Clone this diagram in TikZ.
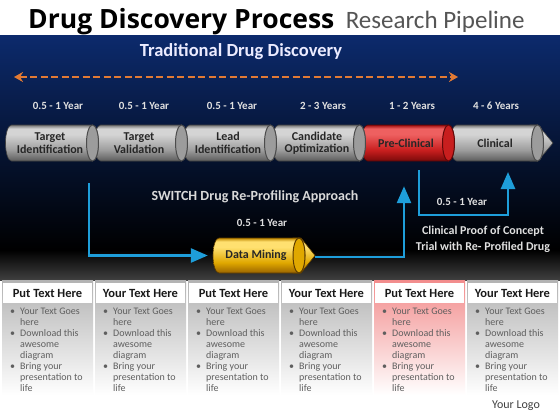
\documentclass[tikz,border=0pt]{standalone}
\usepackage{fontspec}
\setmainfont{Carlito}
\newfontfamily\headfont{Open Sans}
\usetikzlibrary{arrows.meta}
\definecolor{navytop}{RGB}{12,42,108}
\definecolor{navymid}{RGB}{7,24,66}
\definecolor{dashorange}{RGB}{226,122,52}
\definecolor{flowblue}{RGB}{30,158,218}
\definecolor{tubedk}{RGB}{92,92,92}
\definecolor{tubemid}{RGB}{156,156,156}
\definecolor{tubelt}{RGB}{212,212,212}
\definecolor{tubetop}{RGB}{118,118,118}
\definecolor{reddk}{RGB}{122,10,10}
\definecolor{redmid}{RGB}{200,30,30}
\definecolor{redlt}{RGB}{238,96,96}
\definecolor{redtop}{RGB}{160,16,16}
\definecolor{golddk}{RGB}{154,100,0}
\definecolor{goldmid}{RGB}{224,168,0}
\definecolor{goldlt}{RGB}{255,224,112}
\definecolor{goldtop}{RGB}{192,136,0}
\definecolor{pinktop}{RGB}{242,140,140}
\definecolor{subgray}{RGB}{85,85,85}
\definecolor{bodygray}{RGB}{95,95,95}
\pgfdeclareverticalshading{graytube}{100bp}{color(0bp)=(tubedk); color(25bp)=(tubedk); color(40bp)=(tubemid); color(62bp)=(tubelt); color(70bp)=(tubelt); color(75bp)=(tubetop); color(100bp)=(tubetop)}
\pgfdeclareverticalshading{redtube}{100bp}{color(0bp)=(reddk); color(25bp)=(reddk); color(40bp)=(redmid); color(62bp)=(redlt); color(70bp)=(redlt); color(75bp)=(redtop); color(100bp)=(redtop)}
\pgfdeclareverticalshading{goldtube}{100bp}{color(0bp)=(golddk); color(25bp)=(golddk); color(40bp)=(goldmid); color(62bp)=(goldlt); color(70bp)=(goldlt); color(75bp)=(goldtop); color(100bp)=(goldtop)}

\tikzset{
  grayseg/.style={shading=graytube, draw=black!75, line width=0.6pt},
  graycap/.style={fill=tubemid, draw=black!70, line width=1pt},
  redseg/.style={shading=redtube, draw=reddk!70!black, line width=0.6pt},
  redcap/.style={fill=redmid, draw=reddk!80!black, line width=1pt},
  goldseg/.style={shading=goldtube, draw=golddk!60!black, line width=0.6pt},
  goldcap/.style={fill=goldmid, draw=golddk!60!black, line width=1pt},
  seglabel/.style={font=\fontsize{12}{12.5}\selectfont\bfseries, text=black!85, align=center, inner sep=0pt},
  yearlbl/.style={font=\fontsize{11}{12}\selectfont\bfseries, text=white!88!black},
  flow/.style={flowblue, line width=2.6pt, -{Triangle[length=17pt,width=14pt]}},
  graycol/.style={top color=gray!60, bottom color=white},
  pinkcol/.style={top color=pinktop, bottom color=white},
  colhead/.style={font=\fontsize{12.5}{14}\selectfont\bfseries, text=black!90},
  colbody/.style={font=\fontsize{10}{11}\selectfont, text=bodygray, inner sep=2pt}
}

\begin{document}
\begin{tikzpicture}[x=1pt,y=-1pt]
\def\colbody{\begin{tabular}{@{}l@{\hspace{5pt}}l@{}}\textbullet & Your Text Goes\\ & here\\ \textbullet & Download this\\ & awesome\\ & diagram\\ \textbullet & Bring your\\ & presentation to\\ & life\end{tabular}}
\useasboundingbox (0,0) rectangle (560,420);
\fill[white] (0,0) rectangle (560,420);
\shade[top color=navytop, middle color=navymid, bottom color=black] (0,36) rectangle (560,250);
\shade[top color=black, bottom color=gray!50!black] (0,250) rectangle (560,280);

% heading
\node[anchor=base west, inner sep=0pt, font=\headfont\fontsize{26.5}{30}\selectfont\bfseries] (title) at (28,29) {Drug Discovery Process};
\node[anchor=base west, inner sep=0pt, font=\fontsize{25}{28}\selectfont, text=subgray] (subtitle) at ([xshift=11pt]title.base east) {Research Pipeline};

% traditional route
\node[font=\fontsize{18.5}{20}\selectfont\bfseries, text=white!92!blue] (trad) at (241,52) {Traditional Drug Discovery};
\coordinate (tdl) at (14,77);
\coordinate (tdr) at (458,77);
\draw[dashorange, line width=2.4pt, dash pattern=on 7pt off 3.5pt, {Stealth[length=9pt,width=10pt]}-{Stealth[length=9pt,width=10pt]}] (tdl) -- (tdr);
\foreach \x/\yr in {58/0.5 - 1 Year, 144/0.5 - 1 Year, 232/0.5 - 1 Year, 323/2 - 3 Years, 412/1 - 2 Years, 496/4 - 6 Years}
  \node[yearlbl] (yr\x) at (\x,106) {\yr};

% pipeline
\path[grayseg] (530,125) -- (538,125) -- (553,143) -- (538,161) -- (530,161) -- cycle;
\foreach \cx/\nm/\txt/\sty/\cap in {497/cl/Clinical/grayseg/graycap, 408/pc/Pre-Clinical/redseg/redcap, 319/co/{Candidate\\Optimization}/grayseg/graycap, 230/li/{Lead\\Identification}/grayseg/graycap, 141/tv/{Target\\Validation}/grayseg/graycap, 52/ti/{Target\\Identification}/grayseg/graycap}{
  \path[\sty] (\cx+40.5,125) -- (\cx-40.5,125) arc[start angle=90, end angle=270, x radius=6pt, y radius=18pt] -- (\cx+40.5,161) arc[start angle=-90, end angle=90, x radius=6pt, y radius=18pt] -- cycle;
  \path[\cap] (\cx+40.5,143) ellipse[x radius=6pt, y radius=18pt];
  \node[seglabel, minimum height=36pt] (\nm) at (\cx-2,143) {\txt};
}

% switch route
\node[font=\fontsize{14}{16}\selectfont\bfseries, text=white!85!black] (switch) at (255,197) {SWITCH Drug Re-Profiling Approach};
\node[yearlbl] (dmyr) at (262,223) {0.5 - 1 Year};
\path[goldseg] (293,238) -- (301,238) -- (315,255.5) -- (301,273) -- (293,273) -- cycle;
\path[goldseg] (299,238) -- (219,238) arc[start angle=90, end angle=270, x radius=6pt, y radius=17.5pt] -- (299,273) arc[start angle=-90, end angle=90, x radius=6pt, y radius=17.5pt] -- cycle;
\path[goldcap] (299,255.5) ellipse[x radius=6pt, y radius=17.5pt];
\node[seglabel, minimum width=86pt, minimum height=35pt] (dm) at (256,255.5) {Data Mining};
\coordinate (tvout) at (89,183);
\coordinate (dmtip) at (315,257);
\draw[flow] (tvout) |- ([xshift=-5pt]dm.west);
\draw[flow] (dmtip) -| ([xshift=-2pt,yshift=-25pt]pc.south);

% proof of concept
\coordinate (pcout) at (419,170);
\coordinate (clin) at (508,172);
\draw[flow] (pcout) -- ++(0,45) -| (clin);
\node[yearlbl] (pocyr) at (462,202) {0.5 - 1 Year};
\node[font=\fontsize{12}{16}\selectfont\bfseries, text=white!88!black, align=center] (poc) at (483,239) {Clinical Proof of Concept\\Trial with Re- Profiled Drug};

% text columns
\foreach \i/\hd/\sty in {0/Put Text Here/graycol, 1/Your Text Here/graycol, 2/Put Text Here/graycol, 3/Your Text Here/graycol, 4/Put Text Here/pinkcol, 5/Your Text Here/graycol}{
  \path[\sty] (2+93*\i,280) rectangle ++(91,115);
  \fill[white] (3+93*\i,283) rectangle ++(89,20);
  \node[colhead] (hd\i) at (47.5+93*\i,293) {\hd};
  \node[colbody, anchor=north west] (bd\i) at (8+93*\i,305) {\colbody};
}
\node[font=\fontsize{12}{14}\selectfont, text=black!75] (logo) at (516,406) {Your Logo};
\end{tikzpicture}
\end{document}
